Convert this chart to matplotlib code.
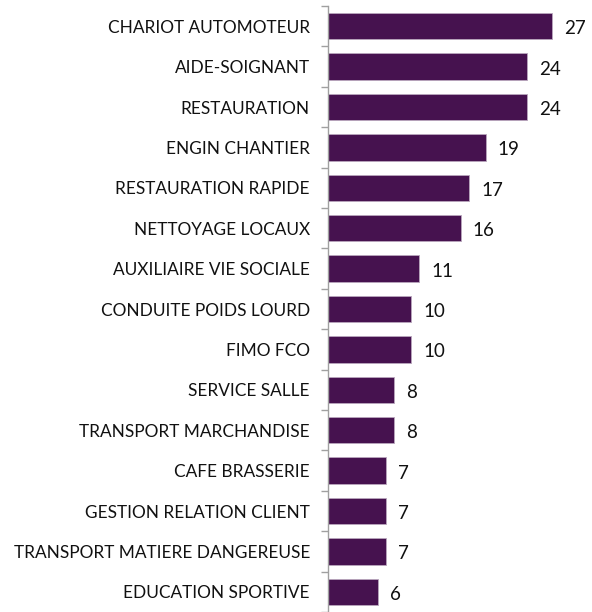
import numpy as np
import matplotlib.pyplot as plt

categories = ["CHARIOT AUTOMOTEUR", "AIDE-SOIGNANT", "RESTAURATION", "ENGIN CHANTIER",
              "RESTAURATION RAPIDE", "NETTOYAGE LOCAUX", "AUXILIAIRE VIE SOCIALE",
              "CONDUITE POIDS LOURD", "FIMO FCO", "SERVICE SALLE", "TRANSPORT MARCHANDISE",
              "CAFE BRASSERIE", "GESTION RELATION CLIENT", "TRANSPORT MATIERE DANGEREUSE",
              "EDUCATION SPORTIVE"]
values = [27, 24, 24, 19, 17, 16, 11, 10, 10, 8, 8, 7, 7, 7, 6]

plt.rcParams['font.family'] = ['Lato', 'DejaVu Sans']

fig = plt.figure(figsize=(5.92, 6.12), dpi=100)
ax = fig.add_axes([328 / 592, 0.0, 249 / 592, 1 - 6 / 612])

y = np.arange(len(categories))
ax.barh(y, values, height=0.65, color='#46124f', edgecolor='#b9a7bd', linewidth=0.6)

for yi, v in zip(y, values):
    ax.text(v + 1.45, yi + 0.06, str(v), va='center', ha='left', fontsize=13.5, color='#111111')

ax.set_xlim(0, 30)
ax.set_ylim(len(categories) - 0.5, -0.5)
ax.set_yticks(y)
ax.set_yticklabels(categories, fontsize=12.4, color='#111111')
ax.tick_params(axis='y', which='major', length=0, pad=13)
ax.set_yticks(np.arange(len(categories) + 1) - 0.5, minor=True)
ax.tick_params(axis='y', which='minor', length=5, color='#a0a0a0', width=1)
ax.set_xticks([])

for s in ['top', 'right', 'bottom']:
    ax.spines[s].set_visible(False)
ax.spines['left'].set_color('#a0a0a0')
ax.spines['left'].set_linewidth(1)

fig.savefig('out.png', dpi=100)
